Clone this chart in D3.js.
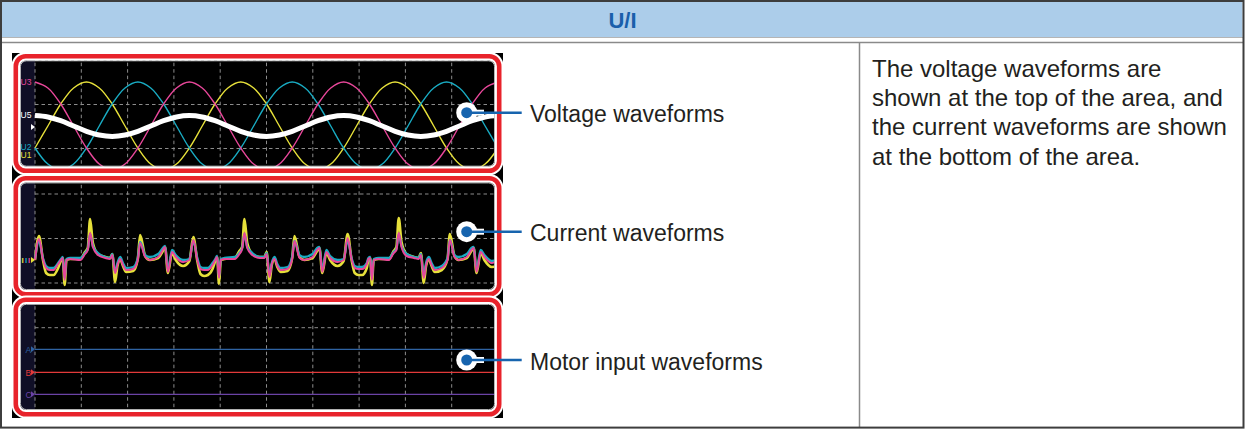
<!DOCTYPE html>
<html><head><meta charset="utf-8">
<script src="https://cdn.jsdelivr.net/npm/d3@7"></script>
<style>
html,body{margin:0;padding:0;background:#fff;}
svg{display:block;}
text{font-family:"Liberation Sans",Arial,Helvetica,sans-serif;}
</style></head><body>
<svg id="c" width="1245" height="429"></svg>
<script>
// ---------------- DATA ----------------
const headerTitle = "U/I";
const calloutLabels = ["Voltage waveforms", "Current waveforms", "Motor input waveforms"];
const descriptionLines = [
  "The voltage waveforms are",
  "shown at the top of the area, and",
  "the current waveforms are shown",
  "at the bottom of the area."
];

// Voltage panel (time in ms, values in V)
const voltTimes = [0, 1.39, 2.78, 4.17, 5.56, 6.94, 8.33, 9.72, 11.11, 12.5, 13.89, 15.28,
  16.67, 18.06, 19.44, 20.83, 22.22, 23.61, 25, 26.39, 27.78, 29.17, 30.56, 31.94,
  33.33, 34.72, 36.11, 37.5, 38.89, 40.28, 41.67, 43.06, 44.44, 45.83, 47.22, 48.61, 50];
const voltU3 = [282, 244, 141, 0, -141, -244, -282, -244, -141, 0, 141, 244,
  282, 244, 141, 0, -141, -244, -282, -244, -141, 0, 141, 244,
  282, 244, 141, 0, -141, -244, -282, -244, -141, 0, 141, 244, 282];
const voltU1 = [-141, 0, 141, 244, 282, 244, 141, 0, -141, -244, -282, -244,
  -141, 0, 141, 244, 282, 244, 141, 0, -141, -244, -282, -244,
  -141, 0, 141, 244, 282, 244, 141, 0, -141, -244, -282, -244, -141];
const voltU2 = [-141, -244, -282, -244, -141, 0, 141, 244, 282, 244, 141, 0,
  -141, -244, -282, -244, -141, 0, 141, 244, 282, 244, 141, 0,
  -141, -244, -282, -244, -141, 0, 141, 244, 282, 244, 141, 0, -141];
const voltU5 = [67, 58, 34, 0, -34, -58, -67, -58, -34, 0, 34, 58,
  67, 58, 34, 0, -34, -58, -67, -58, -34, 0, 34, 58,
  67, 58, 34, 0, -34, -58, -67, -58, -34, 0, 34, 58, 67];
const voltLabels = ["U3", "U5", "U2", "U1"];
const voltGrid = [423, 141, -141];

// Current panel (time in ms, values in A)
const curTimes = [
  0.0, 0.43, 0.86, 1.2, 1.6, 2.0, 2.5, 2.8, 3.0, 3.2, 3.4, 3.8, 4.9, 5.4, 5.7, 5.95, 6.25, 6.8, 7.6,
  8.1, 8.35, 8.65, 8.9, 9.2, 9.5, 9.85, 10.6, 11.1, 11.35, 11.9, 12.4, 13.3, 13.8, 14.05, 14.35, 14.8, 15.2, 16.0,
  16.67, 17.1, 17.53, 17.87, 18.27, 18.67, 19.17, 19.47, 19.67, 19.87, 20.07, 20.47, 21.57, 22.07, 22.37, 22.62, 22.92, 23.47, 24.27,
  24.77, 25.02, 25.32, 25.57, 25.87, 26.17, 26.52, 27.27, 27.77, 28.02, 28.57, 29.07, 29.97, 30.47, 30.72, 31.02, 31.47, 31.87, 32.67,
  33.33, 33.76, 34.19, 34.53, 34.93, 35.33, 35.83, 36.0, 36.2, 36.38, 36.58, 37.13, 38.23, 38.73, 39.03, 39.28, 39.58, 40.13, 40.93,
  41.43, 41.68, 41.98, 42.23, 42.53, 42.83, 43.18, 43.93, 44.55, 44.8, 45.3, 45.73, 46.63, 47.13, 47.38, 47.68, 48.13, 48.53, 49.33,
  50.0];
const curI3 = [
  0.0, 2.1, 0.1, -0.8, -1.0, -1.0, -0.4, 0.0, 0.2, -2.0, 0.0, 0.1, 0.0, 0.6, 1.0, 2.7, 1.3, 0.5, 0.2,
  0.1, 0.5, -1.3, -0.5, 0.1, -0.5, -1.0, -0.9, 0.0, 1.7, 0.3, 0.0, 0.3, 1.0, 1.3, -1.2, 0.8, 0.3, -0.2,
  0.0, 2.0, 0.0, -0.9, -1.0, -1.0, -0.5, 0.0, 0.3, -1.8, 0.0, 0.1, 0.1, 0.6, 1.1, 2.7, 1.2, 0.5, 0.2,
  0.2, 0.6, -1.7, -0.4, 0.1, -0.6, -1.0, -0.9, 0.1, 1.9, 0.2, 0.0, 0.3, 1.0, 1.2, -1.2, 0.8, 0.2, -0.2,
  0.0, 2.2, 0.1, -0.8, -0.9, -0.9, -0.4, 0.1, 0.2, -2.0, 0.0, 0.1, 0.0, 0.7, 1.0, 2.7, 1.3, 0.4, 0.2,
  0.1, 0.5, -1.8, -0.5, 0.1, -0.5, -1.0, -0.8, 0.0, 2.0, 0.3, 0.0, 0.3, 1.0, 1.2, -1.2, 0.8, 0.3, -0.3,
  0.0];
const curI1 = [
  0.0, 2.4, 0.0, -1.3, -1.5, -1.5, -0.8, -0.1, 0.2, -2.5, 0.0, 0.1, 0.1, 0.8, 1.2, 4.1, 1.7, 0.6, 0.3,
  0.2, 0.6, -2.2, -0.6, 0.1, -0.6, -1.2, -1.1, 0.1, 2.5, 0.4, 0.0, 0.2, 0.9, 1.3, -1.3, 0.7, 0.0, -0.6,
  -0.1, 2.3, -0.1, -1.4, -1.6, -1.5, -0.9, -0.1, 0.3, -2.4, 0.0, 0.1, 0.2, 0.9, 1.3, 4.1, 1.7, 0.6, 0.3,
  0.3, 0.8, -2.2, -0.5, 0.1, -0.7, -1.2, -1.1, 0.2, 2.4, 0.3, 0.0, 0.2, 0.9, 1.2, -1.3, 0.7, 0.0, -0.6,
  -0.1, 2.6, 0.0, -1.3, -1.5, -1.5, -0.8, 0.0, 0.2, -2.5, 0.0, 0.1, 0.1, 0.9, 1.3, 4.2, 1.8, 0.6, 0.3,
  0.2, 0.7, -2.3, -0.6, 0.1, -0.6, -1.2, -1.0, 0.1, 2.6, 0.4, 0.0, 0.2, 0.9, 1.2, -1.3, 0.7, 0.0, -0.7,
  -0.6];
const curI2 = [
  0.1, 1.9, 0.2, -0.6, -0.8, -0.8, -0.3, 0.1, 0.3, -1.8, 0.1, 0.2, 0.2, 0.7, 1.1, 2.6, 1.4, 0.7, 0.3,
  0.2, 0.6, -1.2, -0.3, 0.3, -0.3, -0.8, -0.7, 0.2, 1.8, 0.5, 0.3, 0.6, 1.2, 1.4, -1.0, 1.0, 0.5, 0.0,
  0.1, 1.9, 0.2, -0.7, -0.8, -0.8, -0.3, 0.1, 0.4, -1.7, 0.1, 0.2, 0.3, 0.7, 1.2, 2.6, 1.3, 0.7, 0.3,
  0.3, 0.7, -1.5, -0.3, 0.3, -0.4, -0.8, -0.7, 0.3, 1.9, 0.5, 0.3, 0.6, 1.2, 1.3, -1.0, 1.0, 0.4, 0.0,
  0.1, 2.0, 0.2, -0.6, -0.7, -0.7, -0.3, 0.2, 0.3, -1.8, 0.1, 0.2, 0.2, 0.8, 1.1, 2.6, 1.4, 0.6, 0.3,
  0.2, 0.6, -1.6, -0.3, 0.3, -0.3, -0.8, -0.6, 0.2, 2.0, 0.5, 0.3, 0.6, 1.2, 1.3, -1.0, 1.0, 0.5, -0.1,
  0.1];
const curGrid = [6.6, 2.15, -2.3];

// Motor panel
const motorTimes = [0, 50];
const motorA = [0, 0];
const motorB = [0, 0];
const motorC = [0, 0];
const motorLabels = ["A", "B", "C"];

// ---------------- LAYOUT ----------------
const C = {
  magenta: "#e8479a", cyan: "#19abc2", yellow: "#e6e03a", white: "#ffffff",
  grid: "#8c8c8c", navy: "#100f26", red: "#e8232b", blue: "#1764ae",
  motA: "#2f63a3", motB: "#e23a3a", motC: "#6b43a6", text: "#231f20"
};
const svg = d3.select("#c");

// table frame
svg.append("rect").attr("x", 2).attr("y", 2).attr("width", 1240.5).attr("height", 35).attr("fill", "#accdea");
svg.append("line").attr("x1", 2).attr("x2", 1243).attr("y1", 37.5).attr("y2", 37.5).attr("stroke", "#b5b5b5").attr("stroke-width", 1);
svg.append("line").attr("x1", 2).attr("x2", 1243).attr("y1", 42.5).attr("y2", 42.5).attr("stroke", "#8a8a8a").attr("stroke-width", 1.5);
svg.append("line").attr("x1", 859.5).attr("x2", 859.5).attr("y1", 42).attr("y2", 427).attr("stroke", "#8a8a8a").attr("stroke-width", 1.5);
svg.append("rect").attr("x", 1).attr("y", 1).attr("width", 1242.5).attr("height", 426.6)
  .attr("fill", "none").attr("stroke", "#3d3d3d").attr("stroke-width", 2);

svg.append("text").attr("x", 622.5).attr("y", 28.3).attr("text-anchor", "middle")
  .attr("font-size", 22).attr("font-weight", "bold").attr("fill", "#1a5fab").text(headerTitle);

// screen background
svg.append("rect").attr("x", 12).attr("y", 53).attr("width", 491).attr("height", 365).attr("fill", "#000");

const x = d3.scaleLinear().domain([0, 50]).range([35, 498]);
const panels = [
  { top: 56.2, h: 114.6, calloutY: 112.7 },
  { top: 178.3, h: 115.9, calloutY: 231.7 },
  { top: 299.7, h: 114.5, calloutY: 360 }
];
const frameX = 15.8, frameW = 483.4, frameR = 10;
const defs = svg.append("defs");

function panelGroup(i) {
  const p = panels[i];
  defs.append("clipPath").attr("id", "clip" + i).append("rect")
    .attr("x", frameX).attr("y", p.top).attr("width", frameW).attr("height", p.h)
    .attr("rx", frameR).attr("ry", frameR);
  const g = svg.append("g").attr("clip-path", `url(#clip${i})`);
  g.append("rect").attr("x", frameX).attr("y", p.top).attr("width", frameW).attr("height", p.h).attr("fill", "#000");
  g.append("rect").attr("x", frameX).attr("y", p.top).attr("width", 35 - frameX).attr("height", p.h).attr("fill", C.navy);
  g.selectAll("line.vg").data(x.ticks(10)).join("line").attr("class", "vg")
    .attr("x1", d => x(d)).attr("x2", d => x(d)).attr("y1", p.top).attr("y2", p.top + p.h)
    .attr("stroke", C.grid).attr("stroke-width", 1).attr("stroke-dasharray", "3.5,3");
  return g;
}
function frame(i) {
  const p = panels[i];
  svg.append("rect").attr("x", frameX + 4.6).attr("y", p.top + 4.6).attr("width", frameW - 9.2).attr("height", p.h - 9.2)
    .attr("rx", 6).attr("fill", "none").attr("stroke", "#c4c4c4").attr("stroke-width", 1);
  svg.append("rect").attr("x", frameX).attr("y", p.top).attr("width", frameW).attr("height", p.h)
    .attr("rx", frameR).attr("fill", "none").attr("stroke", "#fff").attr("stroke-width", 8.5);
  svg.append("rect").attr("x", frameX).attr("y", p.top).attr("width", frameW).attr("height", p.h)
    .attr("rx", frameR).attr("fill", "none").attr("stroke", C.red).attr("stroke-width", 4.6);
}
function tri(g, cx, cy, color) {
  g.append("path").attr("d", `M${cx - 2},${cy - 3}L${cx + 2},${cy}L${cx - 2},${cy + 3}Z`).attr("fill", color);
}

// ---- Panel 1: voltage
{
  const g = panelGroup(0);
  const y = d3.scaleLinear().domain([-282, 282]).range([170, 82]);
  g.selectAll("line.hg").data(voltGrid).join("line").attr("class", "hg")
    .attr("x1", 35).attr("x2", 498).attr("y1", d => y(d) + 0.5).attr("y2", d => y(d) + 0.5)
    .attr("stroke", C.grid).attr("stroke-dasharray", "3.5,3");
  const line = (vals) => d3.line().x((d, k) => x(voltTimes[k])).y(d => y(d)).curve(d3.curveCatmullRom.alpha(0.5))(vals);
  const series = [
    { v: voltU1, c: C.yellow, w: 1.4 },
    { v: voltU2, c: C.cyan, w: 1.4 },
    { v: voltU3, c: C.magenta, w: 1.4 },
    { v: voltU5, c: C.white, w: 5 }
  ];
  g.selectAll("path.v").data(series).join("path").attr("class", "v")
    .attr("d", d => line(d.v)).attr("fill", "none").attr("stroke", d => d.c).attr("stroke-width", d => d.w);
  const labY = [y(voltU3[0]), y(voltU5[0]) - 1, y(voltU2[0]) - 1, y(voltU1[0]) + 7];
  const labC = [C.magenta, C.white, C.cyan, C.yellow];
  g.selectAll("text.lab").data(voltLabels).join("text").attr("class", "lab")
    .attr("x", 20.5).attr("y", (d, k) => labY[k] + 3).attr("font-size", 8.5).attr("fill", (d, k) => labC[k]).text(d => d);
  tri(g, 33, y(0) + 1, C.white);
  frame(0);
}

// ---- Panel 2: current
{
  const g = panelGroup(1);
  const y = d3.scaleLinear().domain([-3, 8]).range([290, 180]);
  g.selectAll("line.hg").data(curGrid).join("line").attr("class", "hg")
    .attr("x1", 35).attr("x2", 498).attr("y1", d => y(d)).attr("y2", d => y(d))
    .attr("stroke", C.grid).attr("stroke-dasharray", "3.5,3");
  const line = (vals) => d3.line().x((d, k) => x(curTimes[k])).y(d => y(d)).curve(d3.curveMonotoneX)(vals);
  const series = [
    { v: curI1, c: C.yellow, w: 2.6 },
    { v: curI2, c: C.cyan, w: 2.3 },
    { v: curI3, c: C.magenta, w: 2.0 }
  ];
  g.selectAll("path.c").data(series).join("path").attr("class", "c")
    .attr("d", d => line(d.v)).attr("fill", "none").attr("stroke", d => d.c)
    .attr("stroke-width", d => d.w).attr("stroke-linejoin", "round");
  const tiny = [{ t: "I", c: C.yellow, dx: 21.5 }, { t: "I", c: C.cyan, dx: 25 }, { t: "I", c: C.magenta, dx: 28 }];
  g.selectAll("text.lab").data(tiny).join("text").attr("class", "lab")
    .attr("x", d => d.dx).attr("y", y(0) + 3).attr("font-size", 8).attr("font-weight", "bold")
    .attr("fill", d => d.c).text(d => d.t);
  tri(g, 33, y(0), C.yellow);
  frame(1);
}

// ---- Panel 3: motor
{
  const g = panelGroup(2);
  const gridY = 327.7;
  g.append("line").attr("x1", 35).attr("x2", 498).attr("y1", gridY).attr("y2", gridY)
    .attr("stroke", C.grid).attr("stroke-dasharray", "3.5,3");
  const rows = [
    { v: motorA, c: C.motA, pos: 349.3 },
    { v: motorB, c: C.motB, pos: 372.3 },
    { v: motorC, c: C.motC, pos: 394.3 }
  ];
  rows.forEach((r, k) => {
    const y = d3.scaleLinear().domain([-1, 1]).range([r.pos + 11, r.pos - 11]);
    const line = d3.line().x((d, j) => x(motorTimes[j])).y(d => y(d));
    g.append("path").attr("d", line(r.v)).attr("fill", "none").attr("stroke", r.c).attr("stroke-width", 1.3);
    g.append("text").attr("x", 25.5).attr("y", y(0) + 3.2).attr("font-size", 8.5).attr("fill", r.c).text(motorLabels[k]);
    tri(g, 33, y(0), r.c);
  });
  frame(2);
}

// ---- callouts
panels.forEach((p, i) => {
  const cy = p.calloutY;
  svg.append("line").attr("x1", 466.7).attr("x2", 484).attr("y1", cy).attr("y2", cy).attr("stroke", "#fff").attr("stroke-width", 6);
  svg.append("circle").attr("cx", 466.7).attr("cy", cy).attr("r", 10.5).attr("fill", "#fff");
  svg.append("line").attr("x1", 466.7).attr("x2", 521.7).attr("y1", cy).attr("y2", cy).attr("stroke", C.blue).attr("stroke-width", 2.6);
  svg.append("circle").attr("cx", 466.7).attr("cy", cy).attr("r", 5.5).attr("fill", C.blue);
  svg.append("text").attr("x", 530).attr("y", cy + 9.5).attr("font-size", 23).attr("fill", C.text).text(calloutLabels[i]);
});

// ---- description
svg.selectAll("text.desc").data(descriptionLines).join("text").attr("class", "desc")
  .attr("x", 872).attr("y", (d, k) => 77 + k * 29.2).attr("font-size", 24).attr("fill", C.text).text(d => d);
</script>
</body></html>
